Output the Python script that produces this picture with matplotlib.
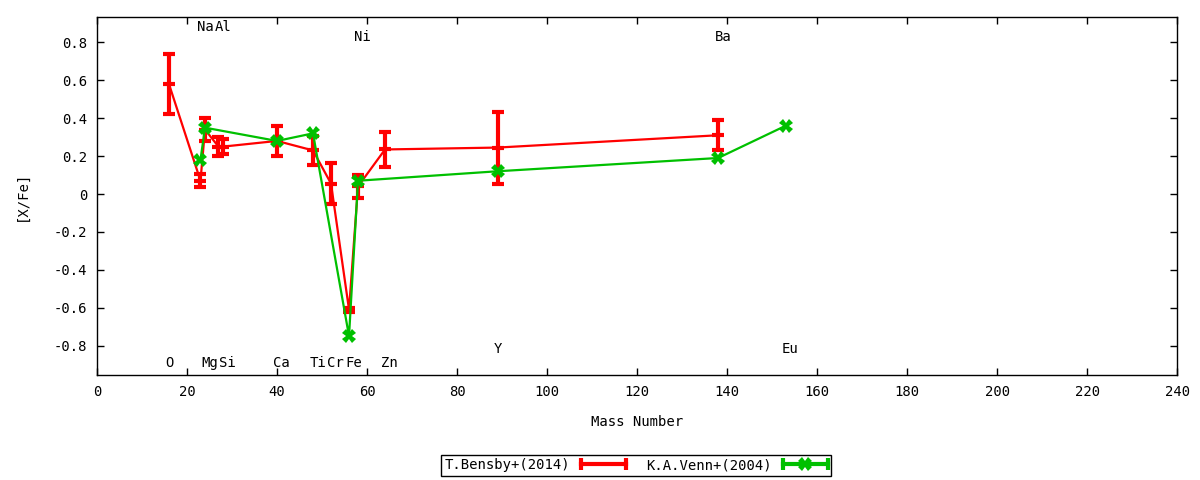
import matplotlib
matplotlib.use("Agg")
import matplotlib.pyplot as plt
from matplotlib.ticker import FuncFormatter
from matplotlib.lines import Line2D
from matplotlib.legend_handler import HandlerBase

# Bensby+ (2014)
bensby_elem = ["O", "Na", "Mg", "Al", "Si", "Ca", "Ti", "Cr", "Fe", "Ni", "Zn", "Y", "Ba"]
bensby_mass = [16, 23, 24, 27, 28, 40, 48, 52, 56, 58, 64, 89, 138]
bensby_xfe = [0.58, 0.07, 0.34, 0.25, 0.25, 0.28, 0.23, 0.055, -0.61, 0.04, 0.235, 0.245, 0.31]
bensby_err = [0.16, 0.035, 0.06, 0.05, 0.04, 0.08, 0.075, 0.11, 0.01, 0.06, 0.09, 0.19, 0.08]

# Venn+ (2004)
venn_elem = ["Na", "Mg", "Ca", "Ti", "Fe", "Ni", "Y", "Ba", "Eu"]
venn_mass = [23, 24, 40, 48, 56, 58, 89, 138, 153]
venn_xfe = [0.18, 0.35, 0.28, 0.32, -0.75, 0.07, 0.12, 0.19, 0.36]
venn_err = [0, 0, 0, 0, 0, 0, 0, 0, 0]

# element labels
label_elem = ["O", "Na", "Mg", "Al", "Si", "Ca", "Ti", "Cr", "Fe", "Ni", "Zn", "Y", "Ba", "Eu"]
label_mass = [16, 23, 24, 27, 28, 40, 48, 52, 56, 58, 64, 89, 138, 153]
label_row = ["low", "high", "low", "high", "low", "low", "low", "low", "low",
             "top", "low", "bot", "top", "bot"]

row_y = {"high": 0.88, "top": 0.83, "low": -0.89, "bot": -0.82}


class HorizErrHandler(HandlerBase):
    # gnuplot style key sample: horizontal bar with end caps and a centre point
    def create_artists(self, legend, orig_handle, xdescent, ydescent,
                       width, height, fontsize, trans):
        color, marker, ms = orig_handle
        y = height / 2 - ydescent
        x0, x1 = -xdescent, width - xdescent
        bar = Line2D([x0, x1], [y, y], color=color, lw=3)
        caps = Line2D([x0, x1], [y, y], color=color, ls="none", marker="|",
                      ms=8, mew=3)
        mid = Line2D([(x0 + x1) / 2], [y], color=color, ls="none", marker=marker,
                     ms=ms, mew=2.5 if marker == "|" else 0)
        for a in (bar, caps, mid):
            a.set_transform(trans)
        return [bar, caps, mid]


plt.rcParams["font.family"] = ["DejaVu Sans Mono"]

fig = plt.figure(figsize=(12, 4.8), dpi=100)
ax = fig.add_axes([0.0808, 0.21875, 0.9002, 0.74585])

red = "#ff0000"
green = "#00c000"

ax.errorbar(bensby_mass, bensby_xfe, yerr=bensby_err, color=red, lw=1.6,
            elinewidth=3, capsize=4, capthick=3, marker="_",
            markersize=8, markeredgewidth=3)
ax.errorbar(venn_mass, venn_xfe, yerr=venn_err, color=green, lw=1.6,
            elinewidth=3, capsize=4, capthick=3, marker="X",
            markersize=10, markeredgewidth=0)

for name, m, r in zip(label_elem, label_mass, label_row):
    ax.text(m - 0.8, row_y[r], name, ha="left", va="center", fontsize=10)

ax.set_xlim(0, 240)
ax.set_ylim(-0.955, 0.934)
ax.set_xticks(range(0, 241, 20))
ax.set_yticks([-0.8, -0.6, -0.4, -0.2, 0, 0.2, 0.4, 0.6, 0.8])
ax.yaxis.set_major_formatter(FuncFormatter(lambda v, p: "%g" % round(v, 2)))
ax.tick_params(direction="in", top=True, right=True, length=5, width=1, pad=7,
               labelsize=10)
for s in ax.spines.values():
    s.set_linewidth(1)

ax.set_xlabel("Mass Number", fontsize=10, labelpad=12)
ax.set_ylabel("[X/Fe]", fontsize=10, labelpad=18)

handles = [(red, "_", 8), (green, "X", 10)]
labels = ["T.Bensby+(2014)", "K.A.Venn+(2004)"]
leg = fig.legend(handles, labels, handler_map={tuple: HorizErrHandler()},
                 loc="center", bbox_to_anchor=(0.53, 0.031),
                 ncol=2, markerfirst=False, fancybox=False, edgecolor="black",
                 framealpha=1, fontsize=10, handlelength=3.2, borderpad=0.25,
                 columnspacing=1.5, handletextpad=0.8)
leg.get_frame().set_linewidth(1)

plt.savefig("out.png", dpi=100)
